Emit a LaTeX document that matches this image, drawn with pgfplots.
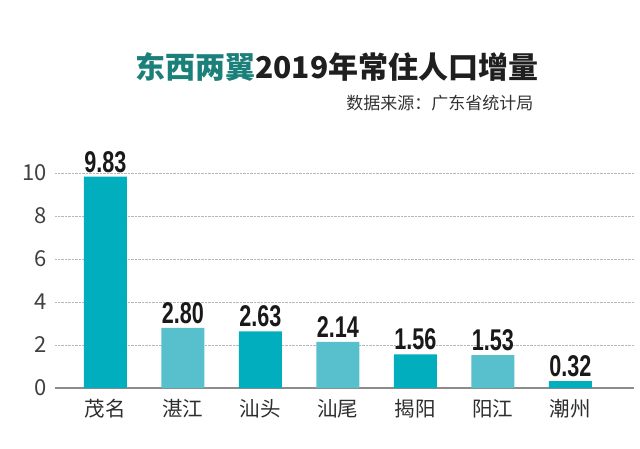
\documentclass[border=0pt]{standalone}
\usepackage{fontspec}
\setmainfont{Noto Sans CJK SC}
\newfontfamily\numfont{Liberation Sans}
\usepackage{graphicx}
\usepackage{pgfplots}
\pgfplotsset{compat=1.18}
\usepackage{pgfplotstable}

\definecolor{tealdark}{HTML}{00AEBD}
\definecolor{teallight}{HTML}{58C0CC}
\definecolor{titleteal}{HTML}{1B7F7A}

% alternating bar colours: two small tables
\pgfplotstableread{
x val
0 9.83
2 2.63
4 1.56
6 0.32
}\darkbars
\pgfplotstableread{
x val
1 2.80
3 2.14
5 1.53
}\lightbars

\begin{document}
\begin{tikzpicture}
\path[use as bounding box] (-55pt,-60pt) rectangle (585pt,388pt);
\begin{axis}[
  at={(0pt,0pt)}, anchor=south west, scale only axis,
  width=579pt, height=225.75pt,
  xmin=-0.65, xmax=6.82, ymin=0, ymax=10.5,
  axis lines*=left,
  y axis line style={draw=none},
  x axis line style={draw=black!45, line width=1.3pt},
  major tick length=0pt,
  xtick={0,...,6},
  xticklabels={茂名,湛江,汕头,汕尾,揭阳,阳江,潮州},
  ytick={0,2,...,10},
  ymajorgrids,
  grid style={densely dotted, black!28, line width=0.7pt},
  /pgf/number format/assume math mode=true,
  yticklabel style={font=\fontsize{22}{22}\selectfont, text=black!75, xshift=-5pt},
  xticklabel style={font=\fontsize{20.5}{20.5}\selectfont, text=black!82, yshift=-8pt},
  nodes near coords={\scalebox{0.72}[1]{\pgfmathprintnumber[fixed,fixed zerofill,precision=2]{\pgfplotspointmeta}}},
  nodes near coords style={font=\numfont\bfseries\fontsize{30}{30}\selectfont, text=black!90, anchor=south, inner sep=2pt, yshift=2pt},
  clip=false,
]
\addplot[ybar, bar shift=0pt, bar width=43pt, fill=tealdark, draw=none]
  table[x=x, y=val] {\darkbars};
\addplot[ybar, bar shift=0pt, bar width=43pt, fill=teallight, draw=none]
  table[x=x, y=val] {\lightbars};
\end{axis}
\node[anchor=base, font=\bfseries\fontsize{30}{30}\selectfont, text=black!88]
  at (282pt,309pt) {\textcolor{titleteal}{东西两翼}2019年常住人口增量};
\node[anchor=base east, font=\fontsize{17}{17}\selectfont, text=black!80]
  at (482pt,279pt) {数据来源：广东省统计局};
\end{tikzpicture}
\end{document}
